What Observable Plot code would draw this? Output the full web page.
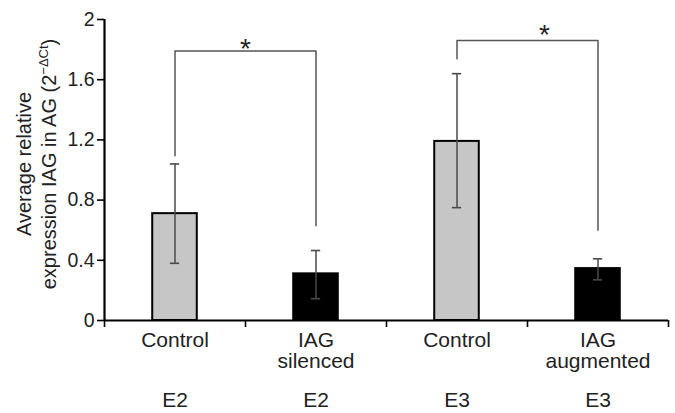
<!DOCTYPE html>
<html>
<head>
<meta charset="utf-8">
<script src="https://cdn.jsdelivr.net/npm/d3@7"></script>
<script src="https://cdn.jsdelivr.net/npm/@observablehq/plot@0.6"></script>
<style>
  html, body { margin: 0; padding: 0; background: #fff; }
  svg { font-family: "Liberation Sans", Arial, sans-serif; }
</style>
</head>
<body>
<div id="chart"></div>
<script>
// ---- data ----
const groups = ["Control", "IAG\nsilenced", "Control", "IAG\naugmented"];
const experiments = ["E2", "E2", "E3", "E3"];
const treatment = ["control", "treated", "control", "treated"];
const means = [0.71, 0.31, 1.19, 0.345];
const errLow = [0.38, 0.145, 0.75, 0.27];
const errHigh = [1.04, 0.465, 1.64, 0.41];
const yTicks = [0, 0.4, 0.8, 1.2, 1.6, 2];
const yTickLabels = ["0", "0.4", "0.8", "1.2", "1.6", "2"];
const xBoundaries = [0, 1, 2, 3, 4];
// significance brackets: bar indices, bracket height, leg ends, star position
const sigFrom = [0, 2];
const sigTo = [1, 3];
const sigTop = [1.79, 1.86];
const sigLeftEnd = [1.095, 1.74];
const sigRightEnd = [0.63, 0.60];
const sigLabel = ["*", "*"];
const sigStarX = [1.0, 3.12];
const sigStarY = [1.79, 1.885];

// ---- tables ----
const rows = groups.map((g, i) => ({
  i, group: g, exp: experiments[i], treat: treatment[i],
  mean: means[i], lo: errLow[i], hi: errHigh[i]
}));
const half = 0.158;   // half bar width in band units
const cap = 0.033;    // half cap width
const bracketPts = sigFrom.flatMap((f, k) => [
  {k, x: f + 0.5, y: sigLeftEnd[k]},
  {k, x: f + 0.5, y: sigTop[k]},
  {k, x: sigTo[k] + 0.5, y: sigTop[k]},
  {k, x: sigTo[k] + 0.5, y: sigRightEnd[k]}
]);
const stars = sigFrom.map((f, k) => ({x: sigStarX[k], y: sigStarY[k], t: sigLabel[k]}));

const plot = Plot.plot({
  width: 675,
  height: 413,
  marginTop: 19,
  marginBottom: 93,
  marginLeft: 104,
  marginRight: 7,
  style: {fontFamily: "Liberation Sans, Arial, sans-serif", color: "#000", background: "#fff"},
  x: {type: "linear", domain: [0, 4], axis: null},
  y: {domain: [0, 2], axis: null},
  color: {domain: ["control", "treated"], range: ["#c6c6c6", "#000000"]},
  marks: [
    Plot.axisY({ticks: yTicks, tickFormat: d => yTickLabels[yTicks.indexOf(d)], tickSize: 7, tickPadding: 3,
      fontSize: 19.5, stroke: "#000", strokeWidth: 1.6, fill: "#222", label: null}),
    Plot.axisX({ticks: xBoundaries, tickFormat: () => "", tickSize: 7, stroke: "#000", strokeWidth: 1.6, label: null}),
    Plot.rectY(rows, {x1: d => d.i + 0.5 - half, x2: d => d.i + 0.5 + half, y1: 0, y2: "mean",
      fill: "treat", stroke: "#000", strokeWidth: 2}),
    Plot.ruleX(rows, {x: d => d.i + 0.5, y1: "lo", y2: "hi", stroke: "#4a4a4a", strokeWidth: 1.5}),
    Plot.ruleY(rows, {y: "lo", x1: d => d.i + 0.5 - cap, x2: d => d.i + 0.5 + cap, stroke: "#4a4a4a", strokeWidth: 1.6}),
    Plot.ruleY(rows, {y: "hi", x1: d => d.i + 0.5 - cap, x2: d => d.i + 0.5 + cap, stroke: "#4a4a4a", strokeWidth: 1.6}),
    Plot.line(bracketPts, {x: "x", y: "y", z: "k", stroke: "#555", strokeWidth: 1.5, curve: "linear"}),
    Plot.text(stars, {x: "x", y: "y", text: "t", fontSize: 28, fill: "#222", lineAnchor: "middle", dy: -2}),
    Plot.ruleX([0], {stroke: "#000", strokeWidth: 2.2}),
    Plot.ruleY([0], {stroke: "#000", strokeWidth: 2.2}),
    Plot.text(rows, {x: d => d.i + 0.5, text: "group", frameAnchor: "bottom", lineAnchor: "top",
      dy: 12, fontSize: 21, fill: "#222", lineHeight: 1}),
    Plot.text(rows, {x: d => d.i + 0.5, text: "exp", frameAnchor: "bottom", lineAnchor: "top",
      dy: 72, fontSize: 21, fill: "#222"})
  ]
});
document.getElementById("chart").appendChild(plot);

// y-axis title with superscript
const svg = d3.select(plot);
const cy = 164;
svg.append("text")
  .attr("transform", `translate(31,${cy}) rotate(-90)`)
  .attr("text-anchor", "middle")
  .attr("font-size", 20).attr("fill", "#222")
  .text("Average relative");
const t2 = svg.append("text")
  .attr("transform", `translate(56,${cy}) rotate(-90)`)
  .attr("text-anchor", "middle")
  .attr("font-size", 20).attr("fill", "#222");
t2.append("tspan").text("expression IAG in AG (2");
t2.append("tspan").attr("font-size", 13).attr("dy", -8).text("\u2212\u0394Ct");
t2.append("tspan").attr("dy", 8).text(")");
</script>
</body>
</html>
